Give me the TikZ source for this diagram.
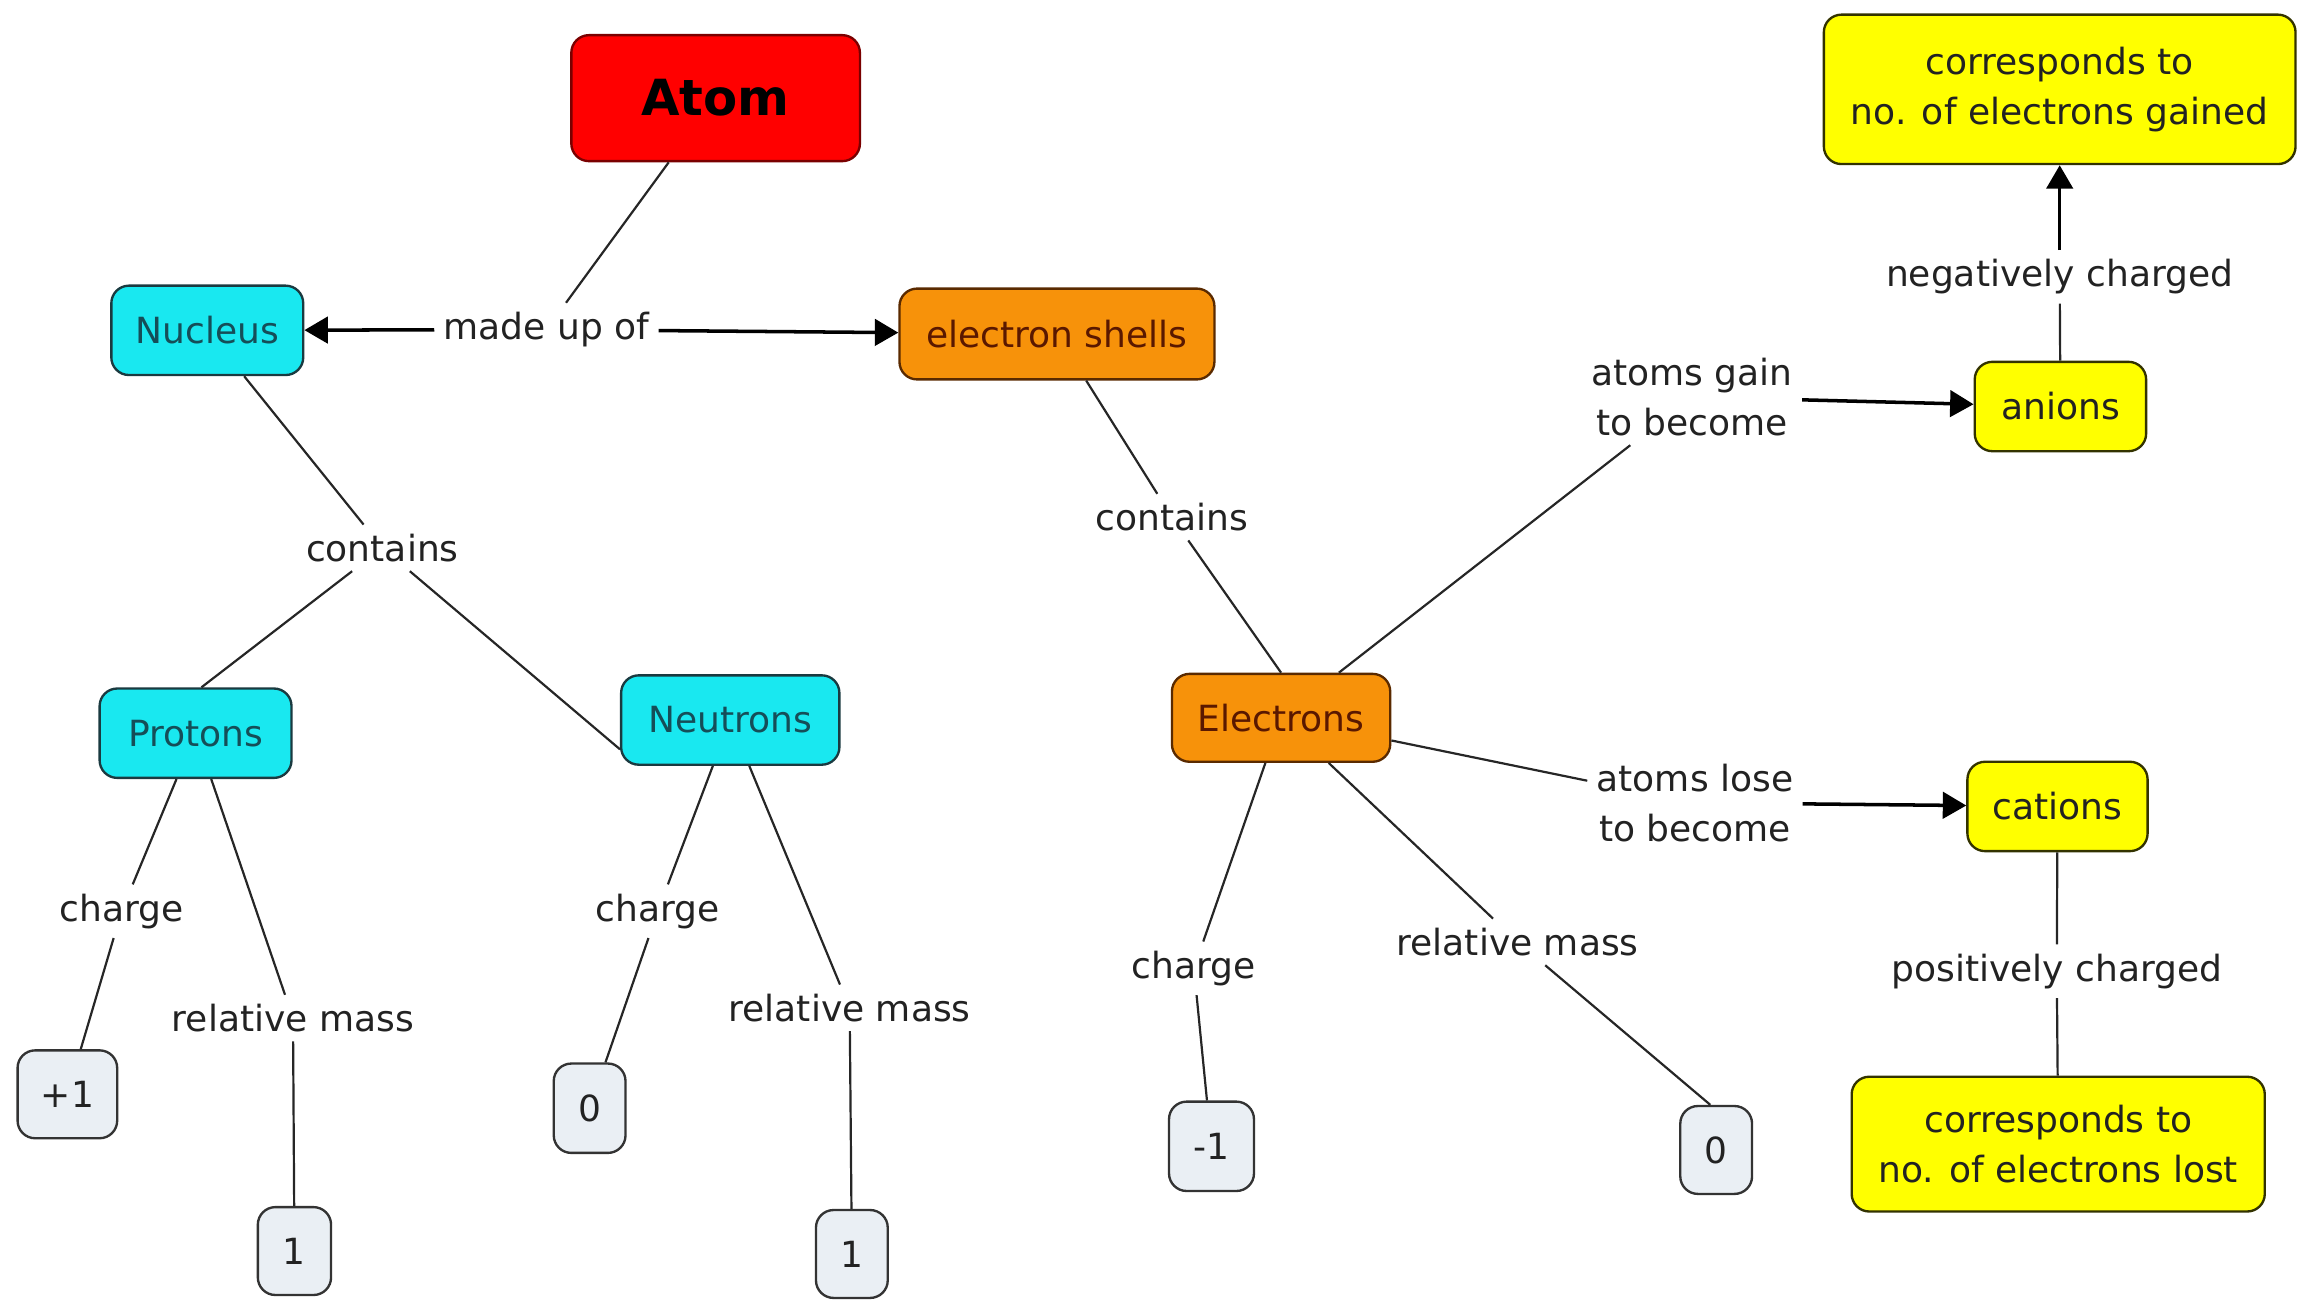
\documentclass[tikz,border=0pt]{standalone}
\usepackage{fontspec}
\setmainfont{DejaVu Sans}
\usetikzlibrary{arrows.meta}
\definecolor{redfill}{HTML}{FF0000}
\definecolor{redline}{HTML}{7A0000}
\definecolor{cyanfill}{HTML}{19E8F0}
\definecolor{cyanline}{HTML}{1A3A40}
\definecolor{cyantext}{HTML}{154E58}
\definecolor{orfill}{HTML}{F7920A}
\definecolor{orline}{HTML}{5A2A00}
\definecolor{ortext}{HTML}{5A1800}
\definecolor{yelfill}{HTML}{FFFF00}
\definecolor{yelline}{HTML}{333300}
\definecolor{lightfill}{HTML}{EAEFF4}
\definecolor{inktext}{HTML}{222222}
\newcommand\lblfont{\fontsize{12.3}{17}\selectfont}
\tikzset{
  concept/.style={draw, rounded corners=6pt, line width=0.8pt, align=center,
    font=\lblfont, inner sep=0pt},
  redbox/.style={concept, fill=redfill, draw=redline, text=black,
    font=\fontsize{17}{20}\selectfont\bfseries},
  cyanbox/.style={concept, fill=cyanfill, draw=cyanline, text=cyantext},
  orbox/.style={concept, fill=orfill, draw=orline, text=ortext},
  yelbox/.style={concept, fill=yelfill, draw=yelline, text=inktext},
  valbox/.style={concept, fill=lightfill, draw=black!80, text=inktext},
  linklabel/.style={font=\lblfont, align=center, inner sep=3pt, text=inktext},
  conn/.style={line width=0.75pt, draw=black!85},
  arr/.style={line width=1.2pt, -{Triangle[length=8pt,width=9pt]}},
}
\begin{document}
\begin{tikzpicture}[x=0.5pt,y=-0.5pt]
\useasboundingbox (0,0) rectangle (1568,888);
% concepts
\node[redbox, minimum width=98.5pt, minimum height=43pt] (atom) at (488.5,67) {Atom};
\node[cyanbox, minimum width=65.5pt, minimum height=30.5pt] (nucleus) at (141.5,225.5) {Nucleus};
\node[orbox, minimum width=107.5pt, minimum height=31pt] (shells) at (721.5,228) {electron shells};
\node[cyanbox, minimum width=65.5pt, minimum height=30.5pt] (protons) at (133.5,500.5) {Protons};
\node[cyanbox, minimum width=74.5pt, minimum height=30.5pt] (neutrons) at (498.5,491.5) {Neutrons};
\node[orbox, minimum width=74.5pt, minimum height=30pt] (electrons) at (874.5,490) {Electrons};
\node[yelbox, minimum width=58.5pt, minimum height=30.5pt] (anions) at (1406.5,277.5) {anions};
\node[yelbox, minimum width=61.5pt, minimum height=30.5pt] (cations) at (1404.5,550.5) {cations};
\node[yelbox, minimum width=161pt, minimum height=51pt] (gained) at (1406,61) {corresponds to\\no. of electrons gained};
\node[yelbox, minimum width=141pt, minimum height=46pt] (lost) at (1405,781) {corresponds to\\no. of electrons lost};
\node[valbox, minimum width=34pt, minimum height=30pt] (pcv) at (46,747) {+1};
\node[valbox, minimum width=25pt, minimum height=30pt] (pmv) at (201,854) {1};
\node[valbox, minimum width=24.5pt, minimum height=30.5pt] (ncv) at (402.5,756.5) {0};
\node[valbox, minimum width=24.5pt, minimum height=30pt] (nmv) at (581.5,856) {1};
\node[valbox, minimum width=29pt, minimum height=30.5pt] (ecv) at (827,782.5) {-1};
\node[valbox, minimum width=24.5pt, minimum height=30pt] (emv) at (1171.5,785) {0};
% linking phrases
\node[linklabel] (madeup) at (373,225) {made up of};
\node[linklabel] (containsL) at (261,374) {contains};
\node[linklabel] (containsR) at (800,353) {contains};
\node[linklabel] (gain) at (1155,271) {atoms gain\\to become};
\node[linklabel] (lose) at (1157,548) {atoms lose\\to become};
\node[linklabel] (negch) at (1406,189) {negatively charged};
\node[linklabel] (posch) at (1404,663) {positively charged};
\node[linklabel] (pcharge) at (83,622) {charge};
\node[linklabel] (pmass) at (200,695) {relative mass};
\node[linklabel] (ncharge) at (449,622) {charge};
\node[linklabel] (nmass) at (580,688) {relative mass};
\node[linklabel] (echarge) at (815,661) {charge};
\node[linklabel] (emass) at (1036,643) {relative mass};
% connectors
\draw[conn] (atom) -- (madeup);
\draw[arr] (madeup) -- (nucleus);
\draw[arr] (madeup) -- (shells);
\draw[conn] (nucleus) -- (containsL);
\draw[conn] (containsL) -- ([xshift=2pt]protons.north);
\draw[conn] (containsL) -- ([yshift=-10pt]neutrons.west);
\draw[conn] (protons) -- (pcharge);
\draw[conn] (pcharge) -- (pcv);
\draw[conn] (protons) -- (pmass);
\draw[conn] (pmass) -- (pmv);
\draw[conn] (neutrons) -- (ncharge);
\draw[conn] (ncharge) -- (ncv);
\draw[conn] (neutrons) -- (nmass);
\draw[conn] (nmass) -- (nmv);
\draw[conn] (shells) -- (containsR);
\draw[conn] (containsR) -- (electrons.north);
\draw[conn] (electrons) -- (echarge);
\draw[conn] (echarge) -- (ecv);
\draw[conn] (electrons) -- (emass);
\draw[conn] (emass) -- ([xshift=-2pt]emv.north);
\draw[conn] (electrons) -- (gain);
\draw[arr] (gain) -- (anions);
\draw[conn] (anions) -- (negch);
\draw[arr] (negch) -- (gained);
\draw[conn] (electrons) -- (lose);
\draw[arr] (lose) -- (cations);
\draw[conn] (cations) -- (posch);
\draw[conn] (posch) -- (lost);
\end{tikzpicture}
\end{document}
